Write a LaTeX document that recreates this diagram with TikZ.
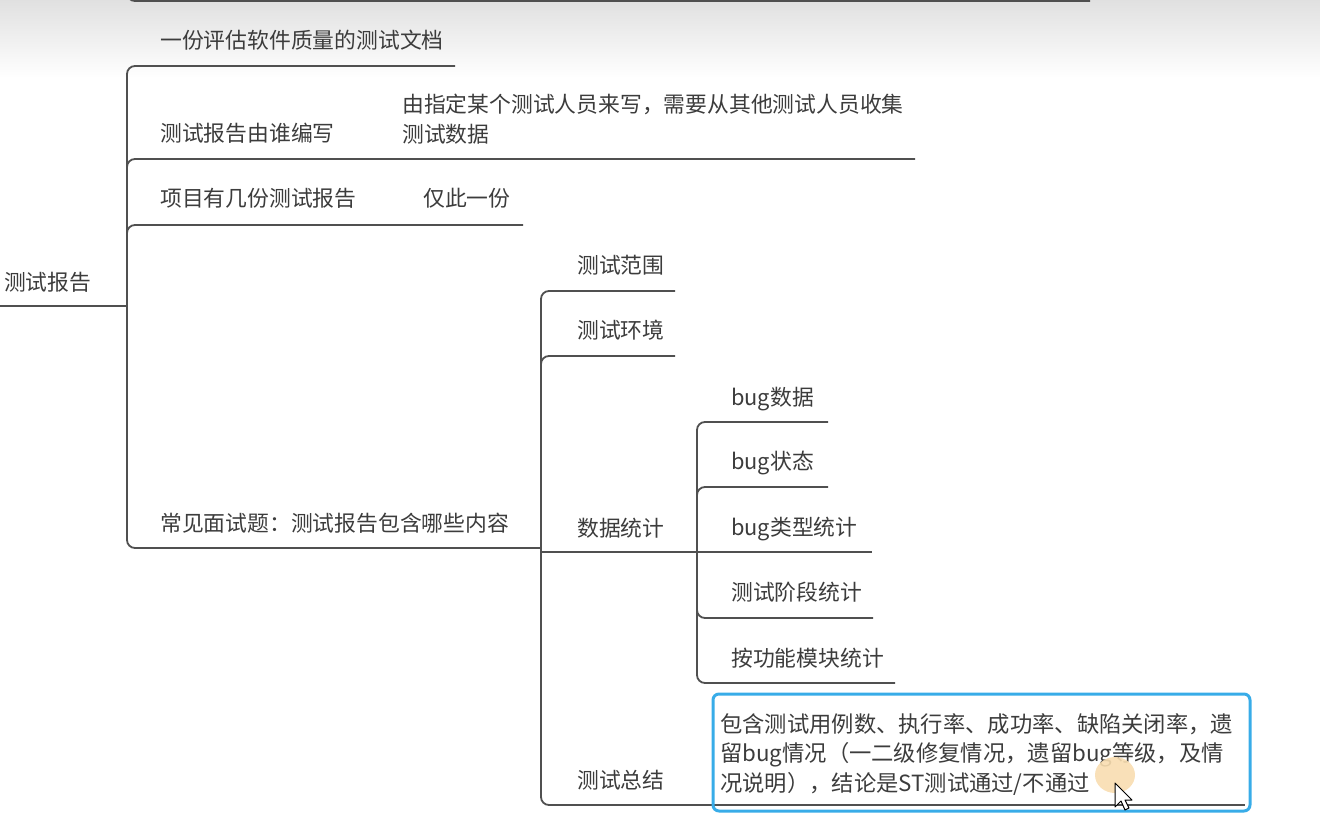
\documentclass[tikz,border=0pt]{standalone}
\usepackage{fontspec}
\setmainfont{Noto Sans CJK SC}
\definecolor{ink}{HTML}{3C3C3C}
\definecolor{wire}{HTML}{505050}
\definecolor{selblue}{HTML}{38ACE8}
\definecolor{halo}{HTML}{F8DDB0}
\begin{document}
\begin{tikzpicture}[x=1pt,y=-1pt,
  topic/.style={anchor=base west,inner sep=0pt,text=ink,
    font=\fontsize{21.8}{30}\selectfont},
  branch/.style={draw=wire,line width=1.8pt,rounded corners=8pt},
  selbox/.style={draw=selblue,line width=3pt,rounded corners=6pt},
]
\useasboundingbox (0,0) rectangle (1320,826);
% toolbar shadow along the top edge
\shade[top color=black!12,bottom color=white] (0,0) rectangle (1320,78);

% ---- topics ----
\node[topic] (root)  at (4,291)   {测试报告};
\node[topic] (doc)   at (160,49)  {一份评估软件质量的测试文档};
\node[topic] (who)   at (160,142) {测试报告由谁编写};
\node[topic] (whoA)  at (402,113) {\vtop{\hbox{由指定某个测试人员来写，需要从其他测试人员收集}\hbox{测试数据}}};
\node[topic] (many)  at (160,207) {项目有几份测试报告};
\node[topic] (manyA) at (423,207) {仅此一份};
\node[topic] (faq)   at (160,531) {常见面试题：测试报告包含哪些内容};
\node[topic] (scope) at (577,274) {测试范围};
\node[topic] (env)   at (577,338) {测试环境};
\node[topic] (stat)  at (577,536) {数据统计};
\node[topic] (sum)   at (577,788) {测试总结};
\node[topic] (bugd)  at (731,405) {bug数据};
\node[topic] (bugs)  at (731,469) {bug状态};
\node[topic] (bugt)  at (731,535) {bug类型统计};
\node[topic] (phase) at (731,600) {测试阶段统计};
\node[topic] (mod)   at (731,666) {按功能模块统计};

% ---- underline ends and junctions ----
\coordinate (topUp)  at (127,-20);
\coordinate (topEnd) at (1090,1);
\coordinate (rootL)  at (0,306);
\coordinate (rootJ)  at (127,306);
\coordinate (docE)   at (455,66);
\coordinate (whoE)   at (915,159);
\coordinate (manyE)  at (523,225);
\coordinate (faqE)   at (541,548);
\coordinate (faqJ)   at (541,552);
\coordinate (scopeE) at (675,291);
\coordinate (envE)   at (675,356);
\coordinate (statJ)  at (697,552);
\coordinate (sumE)   at (713,805);
\coordinate (bugdE)  at (828,422);
\coordinate (bugsE)  at (828,487);
\coordinate (bugtE)  at (872,552);
\coordinate (phaseE) at (873,618);
\coordinate (modE)   at (895,683);
\coordinate (noteE)  at (1245,805);

% ---- connectors ----
\draw[branch] (topUp) |- (topEnd);
\draw[branch] (rootL) -- (rootJ);
\draw[branch] (rootJ) |- (docE);
\draw[branch] (rootJ) |- (whoE);
\draw[branch] (rootJ) |- (manyE);
\draw[branch] (rootJ) |- (faqE);
\draw[branch] (faqJ) |- (scopeE);
\draw[branch] (faqJ) |- (envE);
\draw[branch] (faqJ) -- (statJ);
\draw[branch] (faqJ) |- (sumE);
\draw[branch] (sumE) -- (noteE);
\draw[branch] (statJ) |- (bugdE);
\draw[branch] (statJ) |- (bugsE);
\draw[branch] (statJ) -- (bugtE);
\draw[branch] (statJ) |- (phaseE);
\draw[branch] (statJ) |- (modE);

% ---- selected note topic ----
\draw[selbox] (713,694) rectangle (1250,811);
\node[topic,font=\fontsize{22.3}{29.5}\selectfont] (note) at (720,732)
  {\vtop{\hbox{包含测试用例数、执行率、成功率、缺陷关闭率，遗}%
         \hbox{留bug情况（一二级修复情况，遗留bug等级，及情}%
         \hbox{况说明），结论是ST测试通过/不通过}}};

% ---- mouse pointer with click halo ----
\fill[halo,opacity=0.9] (1115,775) ellipse [x radius=20pt, y radius=18pt];
\draw[fill=white,line width=1pt,line join=round]
  (1115,783) -- ++(0,24) -- ++(6,-6) -- ++(4,9) -- ++(4,-2) -- ++(-4,-8) -- ++(7,0) -- cycle;
\end{tikzpicture}
\end{document}
